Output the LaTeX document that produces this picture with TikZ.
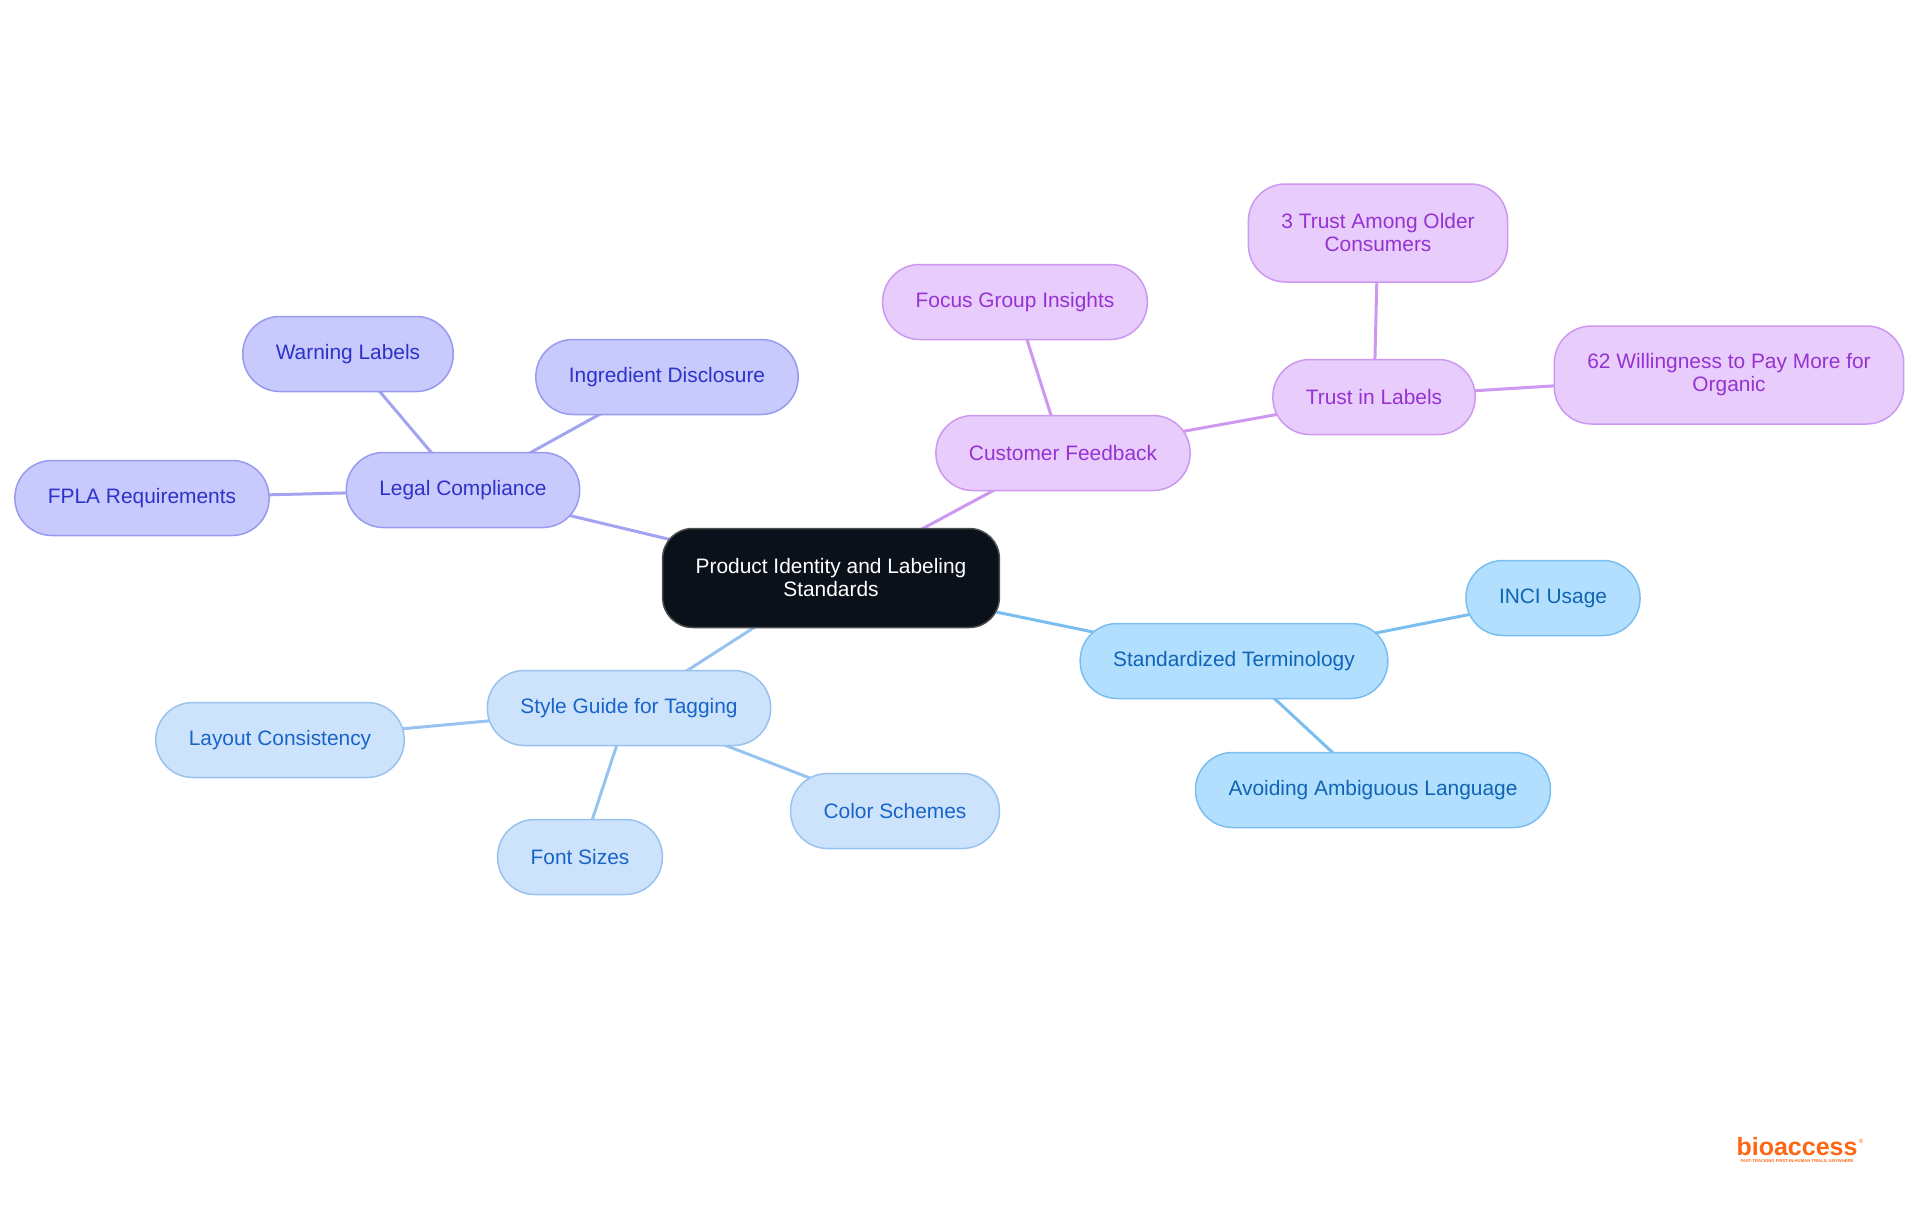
\documentclass[tikz,border=0pt]{standalone}
\usepackage{fontspec}
\setmainfont{Liberation Sans}
\usetikzlibrary{backgrounds}

\definecolor{rootfill}{RGB}{11,17,27}
\definecolor{legalfill}{RGB}{200,201,252}
\definecolor{legalline}{RGB}{152,154,240}
\definecolor{legaltext}{RGB}{45,50,200}
\definecolor{custfill}{RGB}{232,204,252}
\definecolor{custline}{RGB}{205,152,240}
\definecolor{custtext}{RGB}{150,50,210}
\definecolor{termfill}{RGB}{179,223,255}
\definecolor{termline}{RGB}{122,190,240}
\definecolor{termtext}{RGB}{15,100,180}
\definecolor{stylefill}{RGB}{205,227,252}
\definecolor{styleline}{RGB}{152,195,240}
\definecolor{styletext}{RGB}{25,100,200}
\definecolor{logo}{RGB}{255,102,20}

\begin{document}
\begin{tikzpicture}[x=1pt,y=-1pt,
		topic/.style={rounded corners=37pt, line width=1.5pt, inner xsep=33pt, minimum height=75pt, align=center, font=\fontsize{20.9}{23}\selectfont},
		twoline/.style={minimum height=98pt},
		root/.style={topic, rounded corners=30pt, fill=rootfill, draw=black!70, text=white, minimum height=99pt},
		legal/.style={topic, fill=legalfill, draw=legalline, text=legaltext},
		cust/.style={topic, fill=custfill, draw=custline, text=custtext},
		term/.style={topic, fill=termfill, draw=termline, text=termtext},
		guide/.style={topic, fill=stylefill, draw=styleline, text=styletext},
		link/.style={line width=3pt}]
		\useasboundingbox (0,0) rectangle (1920,1215);

		\node[root] (root) at (831,578) {Product Identity and Labeling\\Standards};

		% Legal branch
		\node[legal] (legal) at (463,490) {Legal Compliance};
		\node[legal] (warn) at (348,354) {Warning Labels};
		\node[legal] (ingr) at (667,377) {Ingredient Disclosure};
		\node[legal] (fpla) at (142,498) {FPLA Requirements};

		% Customer branch
		\node[cust] (cust) at (1063,453) {Customer Feedback};
		\node[cust] (focus) at (1015,302) {Focus Group Insights};
		\node[cust] (trust) at (1374,397) {Trust in Labels};
		\node[cust,twoline] (older) at (1378,233) {3 Trust Among Older\\Consumers};
		\node[cust,twoline] (organic) at (1729,375) {62 Willingness to Pay More for\\Organic};

		% Terminology branch
		\node[term] (term) at (1234,661) {Standardized Terminology};
		\node[term] (inci) at (1553,598) {INCI Usage};
		\node[term] (ambig) at (1373,790) {Avoiding Ambiguous Language};

		% Style guide branch
		\node[guide] (guide) at (629,708) {Style Guide for Tagging};
		\node[guide] (layout) at (280,740) {Layout Consistency};
		\node[guide] (fonts) at (580,857) {Font Sizes};
		\node[guide] (colors) at (895,811) {Color Schemes};

		\begin{scope}[on background layer]
			\draw[link, legalline!90] (root.center) -- (legal.center) (legal.center) -- (warn.center) (legal.center) -- (ingr.center) (legal.center) -- (fpla.center);
			\draw[link, custline] (root.center) -- (cust.center) (cust.center) -- (focus.center) (cust.center) -- (trust.center) (trust.center) -- (older.center) (trust.center) -- (organic.center);
			\draw[link, termline] (root.center) -- (term.center) (term.center) -- (inci.center) (term.center) -- (ambig.center);
			\draw[link, styleline] (root.center) -- (guide.center) (guide.center) -- (layout.center) (guide.center) -- (fonts.center) (guide.center) -- (colors.center);
		\end{scope}

		% Logo
		\node[text=logo, font=\fontsize{25}{25}\bfseries\selectfont, inner sep=0pt] (brand) at (1797,1147) {bioaccess};
		\node[text=logo, font=\fontsize{6}{6}\selectfont, inner sep=0pt, anchor=north west] (reg) at ([xshift=1pt,yshift=-1pt]brand.north east) {®};
		\node[text=logo, font=\fontsize{4.2}{4.2}\bfseries\selectfont, inner sep=0pt, below=3pt] (tag) at (brand.south) {FAST-TRACKING FIRST-IN-HUMAN TRIALS, ANYWHERE};
	\end{tikzpicture}
\end{document}
